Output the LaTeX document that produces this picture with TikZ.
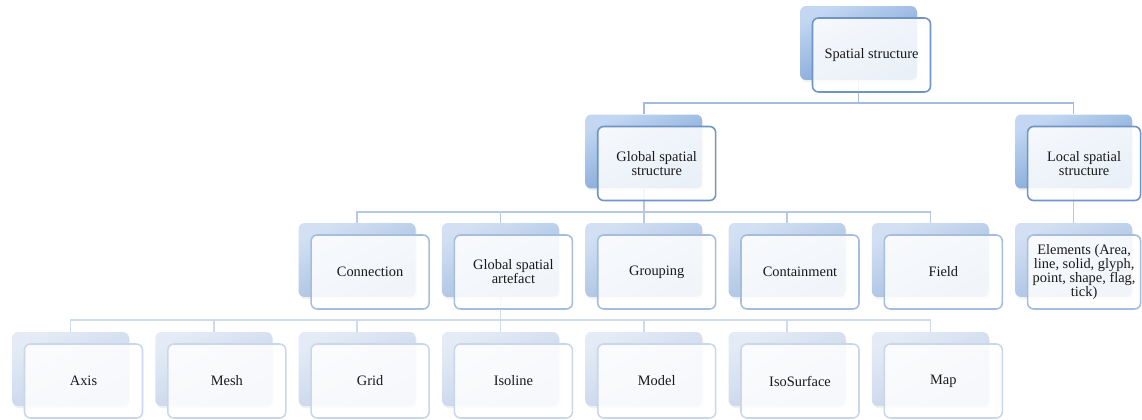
\documentclass[tikz,border=0pt]{standalone}
\usepackage{fontspec}
\setmainfont{Liberation Serif}
\usetikzlibrary{positioning, calc, shadows, backgrounds}

\definecolor{topA}{HTML}{C3D7F2}
\definecolor{botA}{HTML}{6F9AD0}
\definecolor{edgeA}{HTML}{6F95C6}
\definecolor{topB}{HTML}{D3E0F3}
\definecolor{botB}{HTML}{9DB9DE}
\definecolor{edgeB}{HTML}{A6BEDE}
\definecolor{topC}{HTML}{E4EBF6}
\definecolor{botC}{HTML}{C0D0E7}
\definecolor{edgeC}{HTML}{CAD7EA}
\definecolor{linkA}{HTML}{A3BCDD}
\definecolor{linkB}{HTML}{B6C8E3}
\definecolor{linkC}{HTML}{CFDAEB}

\tikzset{
  back/.style={minimum width=2.34cm, minimum height=1.48cm, inner sep=0pt,
    rounded corners=0.12cm, drop shadow={opacity=0.12, shadow xshift=0.6pt, shadow yshift=-1.2pt}},
  backA/.style={back, top color=topA, bottom color=botA, shading angle=25},
  backB/.style={back, top color=topB, bottom color=botB, shading angle=25},
  backC/.style={back, top color=topC, bottom color=botC, shading angle=25},
  front/.style={minimum width=2.36cm, minimum height=1.48cm, inner sep=1pt,
    rounded corners=0.12cm, fill=white, fill opacity=0.86, text opacity=1,
    line width=0.9pt, align=center,
    font=\fontsize{8.2}{8}\selectfont, text=black!90},
  frontA/.style={front, draw=edgeA},
  frontB/.style={front, draw=edgeB},
  frontC/.style={front, draw=edgeC},
  linkA/.style={draw=linkA, line width=0.9pt},
  linkB/.style={draw=linkB, line width=0.9pt},
  linkC/.style={draw=linkC, line width=0.9pt}
}

\begin{document}
\begin{tikzpicture}[x=0.02cm, y=-0.02cm]
\useasboundingbox (0,0) rectangle (1142,419);
% Bus heights
\coordinate (bus0) at (0,103);
\coordinate (bus1) at (0,212);
\coordinate (bus2) at (0,320);
% Back plates
\path
  (858.5,43) node[backA] (ss-b) {}
  (643.7,151.5) node[backA] (gss-b) {}
  (1073.6,151.5) node[backA] (lss-b) {}
  (357.1,260) node[backB] (con-b) {}
  (500.4,260) node[backB] (gsa-b) {}
  (643.7,260) node[backB] (grp-b) {}
  (787,260) node[backB] (cnt-b) {}
  (930.3,260) node[backB] (fld-b) {}
  (1073.6,260) node[backB] (elm-b) {}
  (70.5,369) node[backC] (axis-b) {}
  (213.8,369) node[backC] (mesh-b) {}
  (357.1,369) node[backC] (grid-b) {}
  (500.4,369) node[backC] (iso-b) {}
  (643.7,369) node[backC] (mod-b) {}
  (787,369) node[backC] (isos-b) {}
  (930.3,369) node[backC] (map-b) {};
% Links
\begin{scope}[on background layer]
\draw[linkA] (ss-b) -- (ss-b |- bus0) -| (gss-b.north);
\draw[linkA] (ss-b |- bus0) -| (lss-b.north);
\draw[linkB] (gss-b) -- (gss-b |- bus1);
\foreach \c in {con,gsa,grp,cnt,fld}
  \draw[linkB] (gss-b |- bus1) -| (\c-b.north);
\draw[linkB] (lss-b) -- (elm-b.north);
\draw[linkC] (gsa-b) -- (gsa-b |- bus2);
\foreach \c in {axis,mesh,grid,iso,mod,isos,map}
  \draw[linkC] (gsa-b |- bus2) -| (\c-b.north);
\end{scope}
% Front cards
\node[frontA] (ss) at ($(ss-b)+(13,12)$) {Spatial structure};
\node[frontA] (gss) at ($(gss-b)+(13,12)$) {Global spatial\\structure};
\node[frontA, minimum width=2.26cm] (lss) at ($(lss-b)+(10.5,12)$) {Local spatial\\structure};
\node[frontB] (con) at ($(con-b)+(13,12)$) {Connection};
\node[frontB] (gsa) at ($(gsa-b)+(13,12)$) {Global spatial\\artefact};
\node[frontB] (grp) at ($(grp-b)+(13,12)$) {Grouping};
\node[frontB] (cnt) at ($(cnt-b)+(13,12)$) {Containment};
\node[frontB] (fld) at ($(fld-b)+(13,12)$) {Field};
\node[frontB, minimum width=2.26cm] (elm) at ($(elm-b)+(10.5,12)$)
  {Elements (Area,\\line, solid, glyph,\\point, shape, flag,\\tick)};
\node[frontC] (axis) at ($(axis-b)+(13,12)$) {Axis};
\node[frontC] (mesh) at ($(mesh-b)+(13,12)$) {Mesh};
\node[frontC] (grid) at ($(grid-b)+(13,12)$) {Grid};
\node[frontC] (iso) at ($(iso-b)+(13,12)$) {Isoline};
\node[frontC] (mod) at ($(mod-b)+(13,12)$) {Model};
\node[frontC] (isos) at ($(isos-b)+(13,12)$) {IsoSurface};
\node[frontC] (map) at ($(map-b)+(13,12)$) {Map};
\end{tikzpicture}
\end{document}
